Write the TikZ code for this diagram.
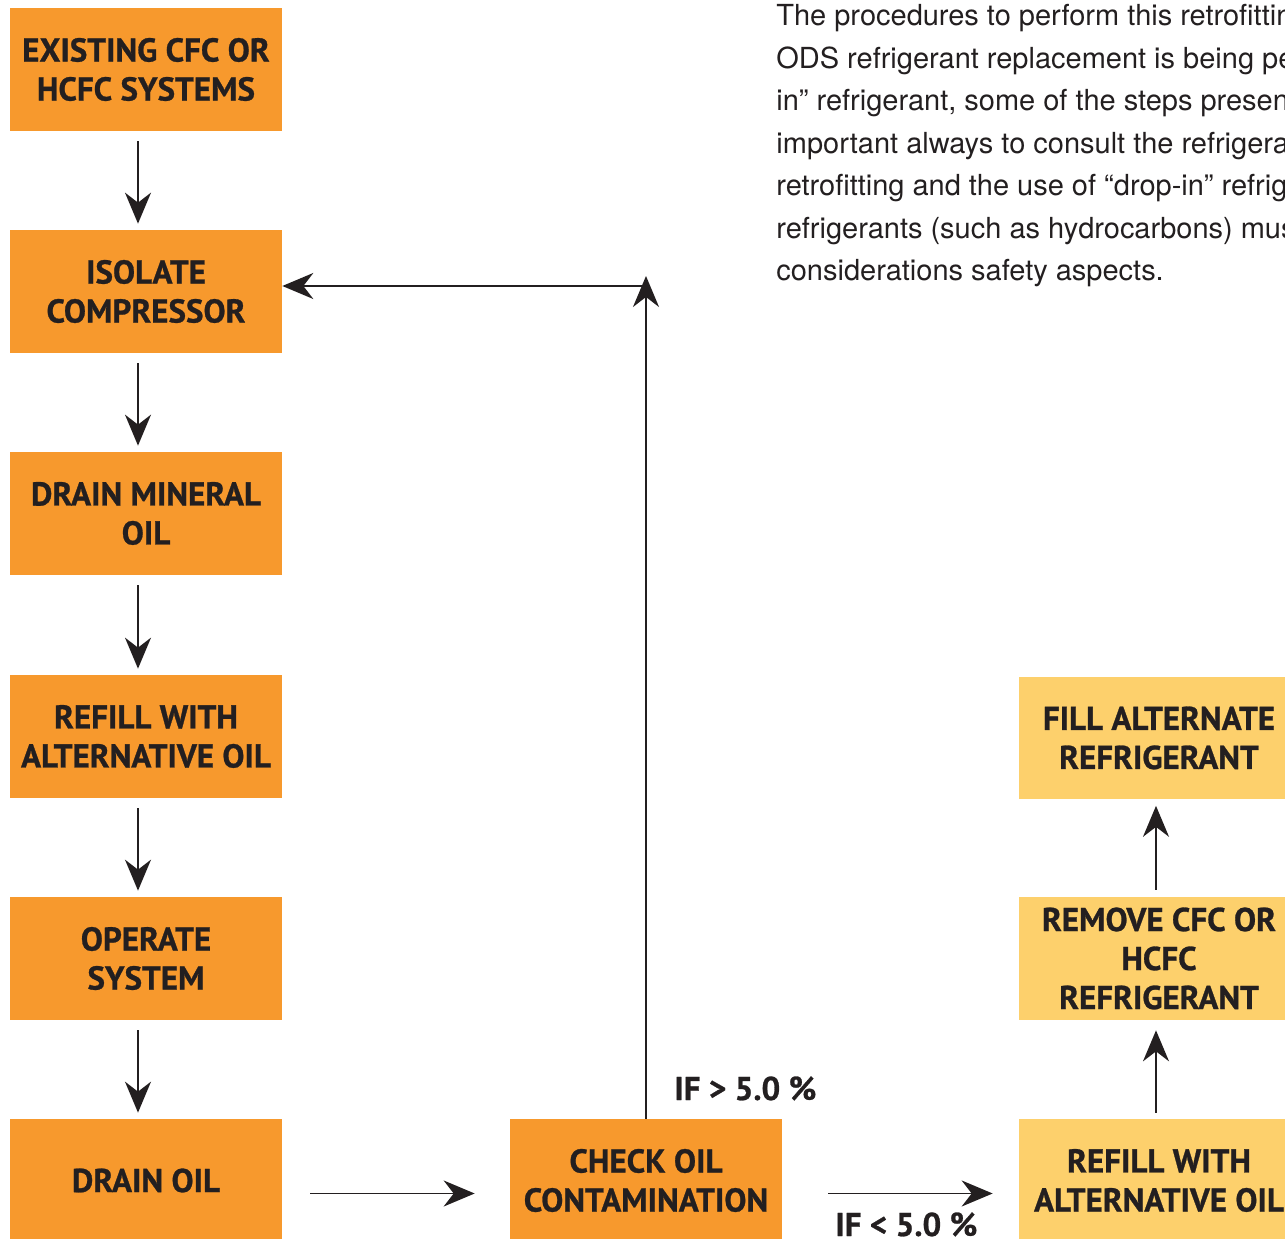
\documentclass[tikz,border=0pt]{standalone}
\usepackage{fontspec}
\usetikzlibrary{arrows.meta}
\newfontfamily\boxfont{PT Sans}[BoldFeatures={FakeBold=0.8}]
\newfontfamily\parafont{TeX Gyre Heros}
\definecolor{darkorange}{HTML}{F7992D}
\definecolor{lightorange}{HTML}{FDD06C}
\definecolor{inkblack}{HTML}{231F20}
\tikzset{
	stepbox/.style={fill=darkorange, minimum width=5.44cm, minimum height=2.46cm, inner sep=0pt,
		align=center, text=inkblack, font=\boxfont\bfseries\fontsize{18.8}{22.2}\selectfont},
	altbox/.style={stepbox, fill=lightorange, minimum width=5.6cm},
	flow/.style={-{Stealth[length=0.62cm,width=0.52cm,inset=0.2cm]}, line width=1.1pt, draw=inkblack},
	cond/.style={inner sep=0pt, anchor=base west, text=inkblack, font=\boxfont\bfseries\fontsize{18.8}{22.2}\selectfont}
}
\begin{document}
\begin{tikzpicture}[x=0.02cm,y=-0.02cm]
	\useasboundingbox (0,0) rectangle (1285,1239);
	\clip (0,0) rectangle (1285,1239);
	% left column
	\node[stepbox] (exist) at (146,69.5) {EXISTING CFC OR\\HCFC SYSTEMS};
	\node[stepbox] (isolate) at (146,291.5) {ISOLATE\\COMPRESSOR};
	\node[stepbox] (drainmin) at (146,513.5) {DRAIN MINERAL\\OIL};
	\node[stepbox] (refill) at (146,736.5) {REFILL WITH\\ALTERNATIVE OIL};
	\node[stepbox] (operate) at (146,958.5) {OPERATE\\SYSTEM};
	\node[stepbox] (drain) at (146,1180.5) {DRAIN OIL};
	% middle
	\node[stepbox] (check) at (646,1180.5) {CHECK OIL\\CONTAMINATION};
	% right column
	\node[altbox] (refilltwo) at (1159,1180.5) {REFILL WITH\\ALTERNATIVE OIL};
	\node[altbox] (remove) at (1159,958.5) {REMOVE CFC OR\\HCFC\\REFRIGERANT};
	\node[altbox] (fill) at (1159,738) {FILL ALTERNATE\\REFRIGERANT};
	% conditions
	\node[cond] (above) at (674,1100) {IF > 5.0 \%};
	\node[cond] (below) at (835,1236) {IF < 5.0 \%};
	% text
	\node[inner sep=0pt, anchor=north west, align=left, text=inkblack,
		font=\parafont\fontsize{16.5}{24.2}\selectfont] (para) at (776,4) {%
		The procedures to perform this retrofitting\\
		ODS refrigerant replacement is being performed\\
		in” refrigerant, some of the steps presented\\
		important always to consult the refrigerant\\
		retrofitting and the use of “drop-in” refrigerants\\
		refrigerants (such as hydrocarbons) must\\
		considerations safety aspects.};
	% arrows
	\foreach \a/\b in {exist/isolate, isolate/drainmin, drainmin/refill, refill/operate, operate/drain}
		\draw[flow, shorten <=0.2cm, shorten >=0.12cm] ([xshift=-0.16cm]\a.south) -- ([xshift=-0.16cm]\b.north);
	\draw[flow, shorten <=0.56cm, shorten >=0.7cm] ([yshift=-0.26cm]drain.east) -- ([yshift=-0.26cm]check.west);
	\draw[flow, shorten <=0.92cm, shorten >=0.52cm] ([yshift=-0.26cm]check.east) -- ([yshift=-0.26cm]refilltwo.west);
	\draw[flow, shorten <=0.12cm, shorten >=0.2cm] ([xshift=-0.06cm]refilltwo.north) -- ([xshift=-0.06cm]remove.south);
	\draw[flow, shorten <=0.14cm, shorten >=0.12cm] ([xshift=-0.06cm]remove.north) -- ([xshift=-0.06cm]fill.south);
	\coordinate (top) at (646,276);
	\coordinate (corner) at (646,286);
	\draw[flow] (check.north) -- (top);
	\draw[flow] (corner) -- (corner -| isolate.east);
\end{tikzpicture}
\end{document}
